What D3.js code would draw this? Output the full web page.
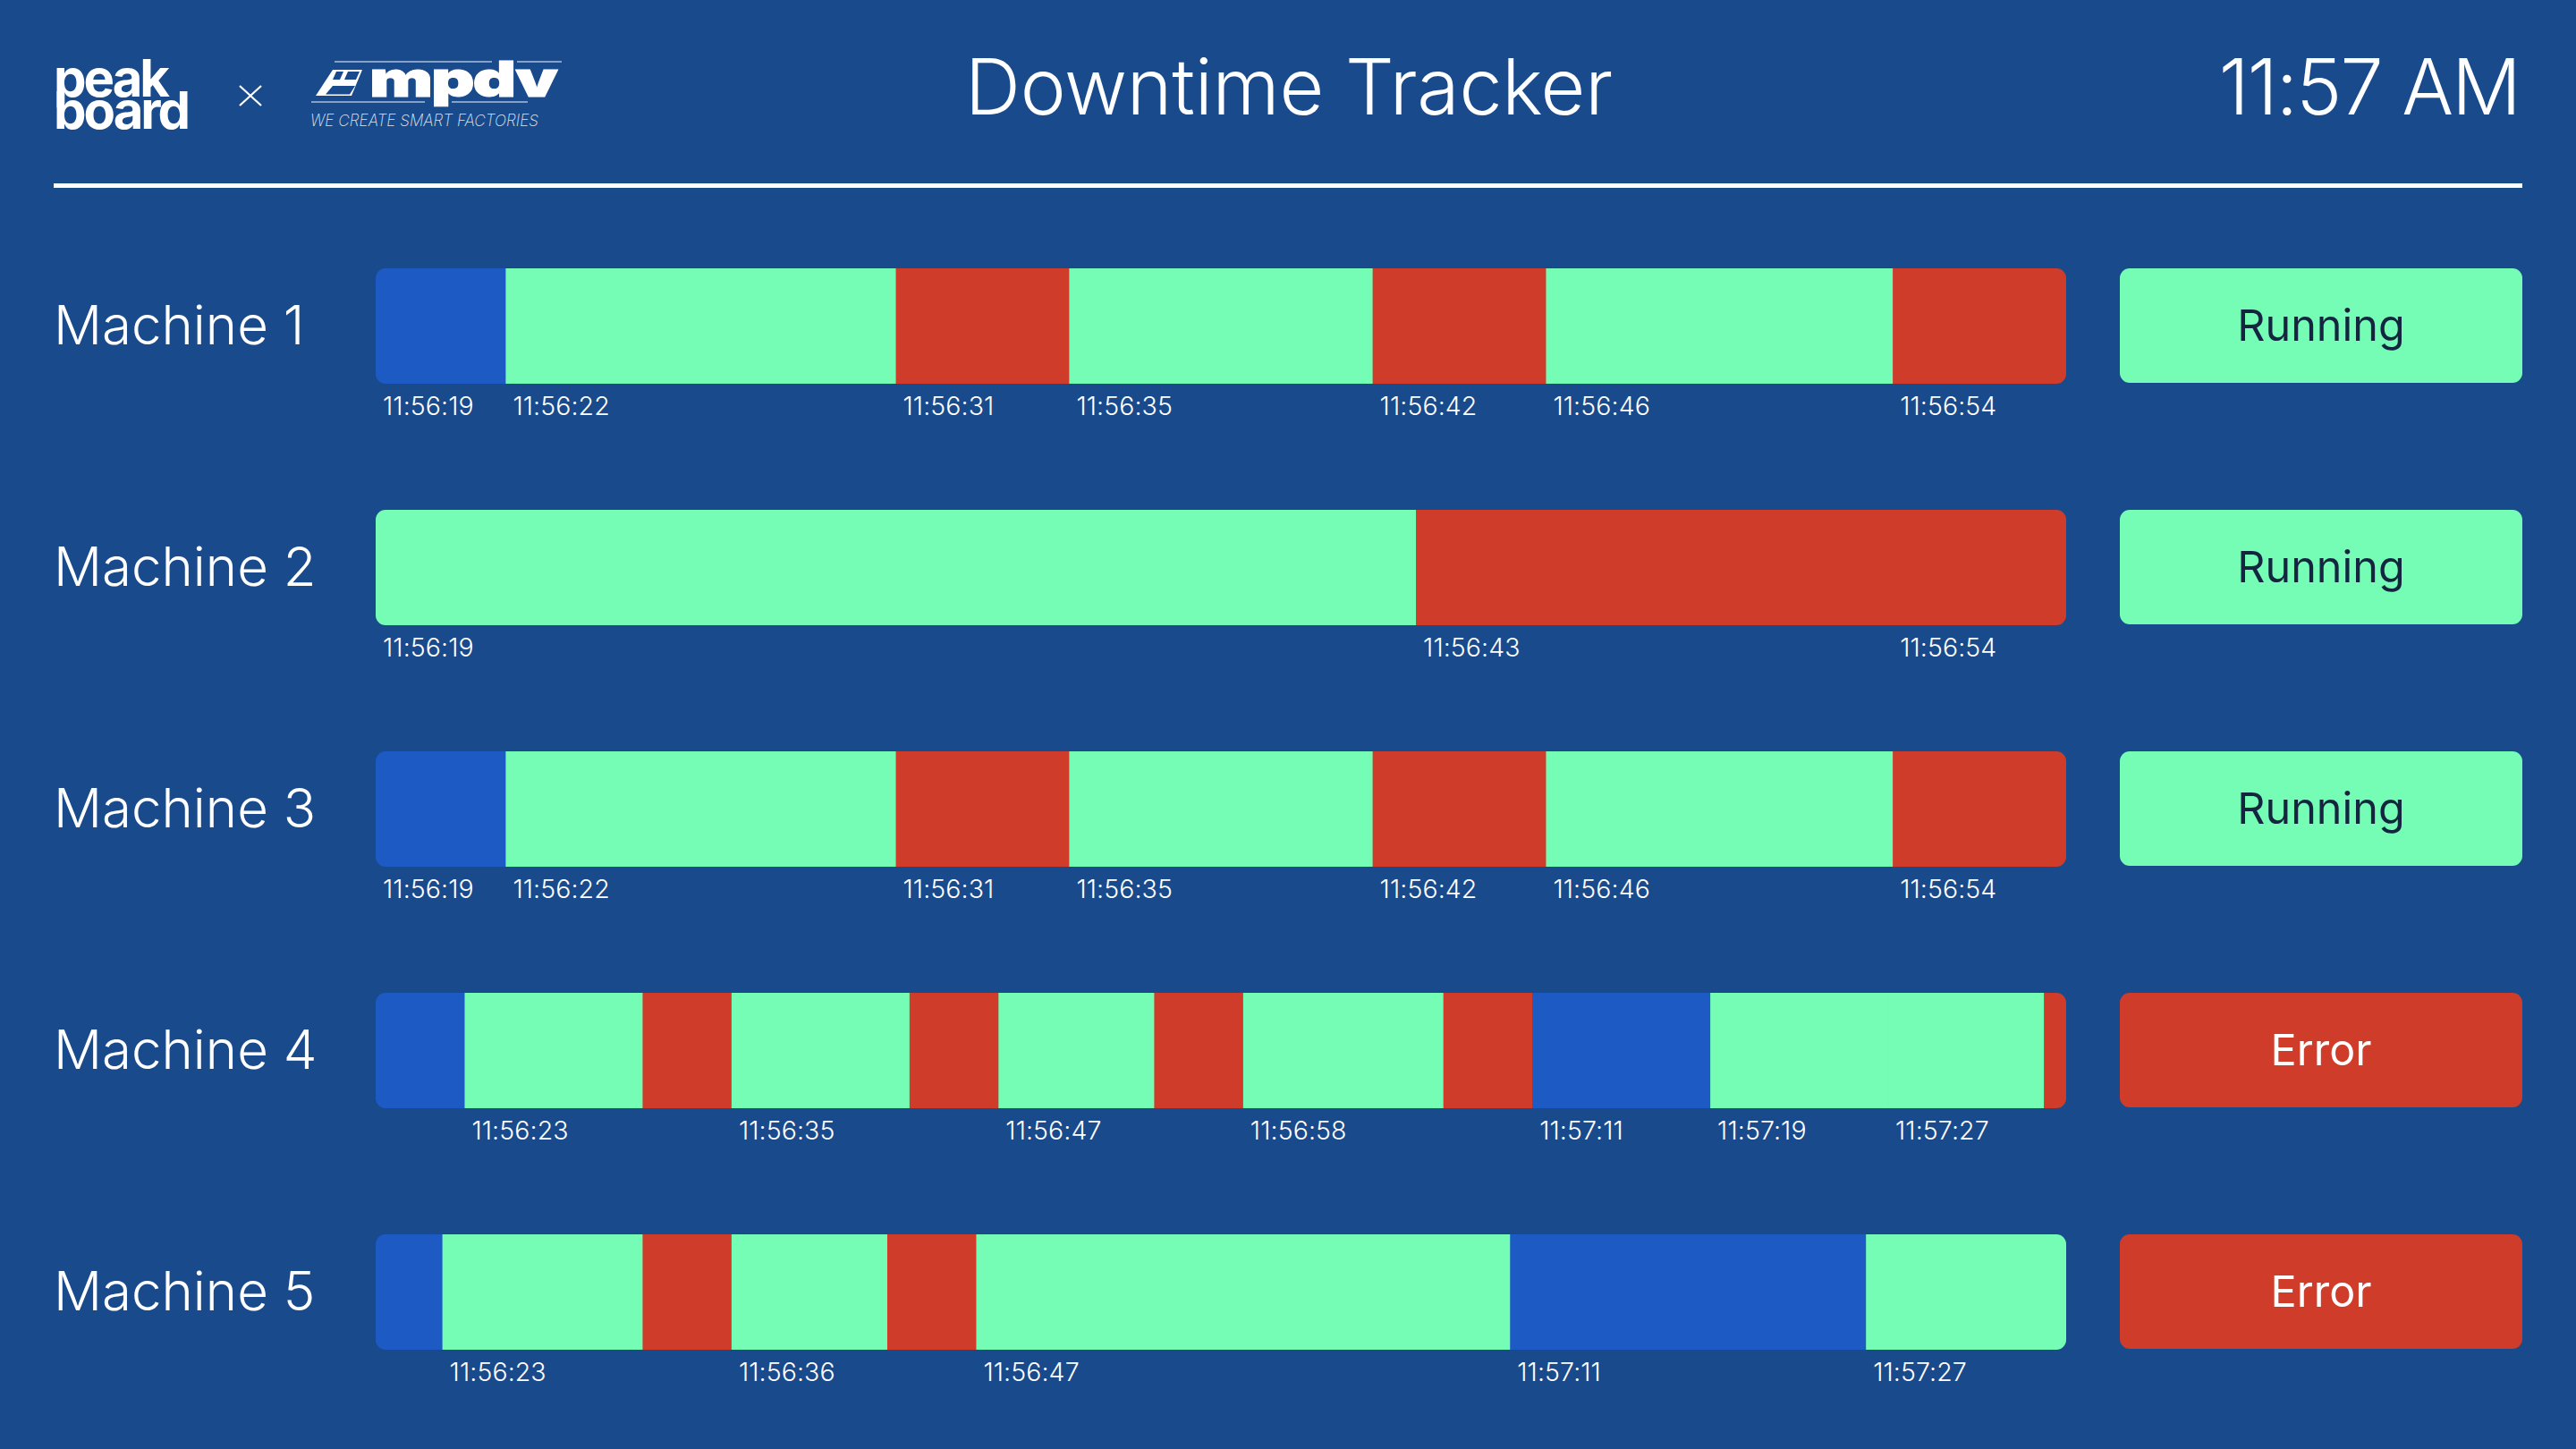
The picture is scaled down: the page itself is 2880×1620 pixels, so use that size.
<!DOCTYPE html>
<html>
<head>
<meta charset="utf-8">
<script src="https://cdn.jsdelivr.net/npm/d3@7"></script>
<style>
  html, body { margin: 0; padding: 0; background: #194a8c; }
  svg { display: block; }
  text { font-family: Inter, "Open Sans", sans-serif; }
</style>
</head>
<body>
<div id="chart"></div>
<script>
const BG = "#194a8c";
const STATE_COLOR = {setup: "#1d5ac4", run: "#75fdb6", stop: "#cf3d2a"};
const STATUS_COLOR = {Running: "#75fdb6", Error: "#cf3d2a"};
const STATUS_TEXT = {Running: "#14263f", Error: "#ffffff"};

const machineNames = ["Machine 1", "Machine 2", "Machine 3", "Machine 4", "Machine 5"];
const machineStatus = ["Running", "Running", "Running", "Error", "Error"];

// start time of every segment, last entry closes the bar
const machine1Times = ["11:56:19", "11:56:22", "11:56:31", "11:56:35", "11:56:42", "11:56:46", "11:56:54", "11:56:58"];
const machine1States = ["setup", "run", "stop", "run", "stop", "run", "stop"];
const machine1Labels = ["11:56:19", "11:56:22", "11:56:31", "11:56:35", "11:56:42", "11:56:46", "11:56:54"];

const machine2Times = ["11:56:19", "11:56:43", "11:56:58"];
const machine2States = ["run", "stop"];
const machine2Labels = ["11:56:19", "11:56:43", "11:56:54"];

const machine3Times = ["11:56:19", "11:56:22", "11:56:31", "11:56:35", "11:56:42", "11:56:46", "11:56:54", "11:56:58"];
const machine3States = ["setup", "run", "stop", "run", "stop", "run", "stop"];
const machine3Labels = ["11:56:19", "11:56:22", "11:56:31", "11:56:35", "11:56:42", "11:56:46", "11:56:54"];

const machine4Times = ["11:56:19", "11:56:23", "11:56:31", "11:56:35", "11:56:43", "11:56:47", "11:56:54", "11:56:58", "11:57:07", "11:57:11", "11:57:19", "11:57:27", "11:57:34", "11:57:35"];
const machine4States = ["setup", "run", "stop", "run", "stop", "run", "stop", "run", "stop", "setup", "run", "run", "stop"];
const machine4Labels = ["11:56:23", "11:56:35", "11:56:47", "11:56:58", "11:57:11", "11:57:19", "11:57:27"];

const machine5Times = ["11:56:20", "11:56:23", "11:56:32", "11:56:36", "11:56:43", "11:56:47", "11:57:11", "11:57:27", "11:57:36"];
const machine5States = ["setup", "run", "stop", "run", "stop", "run", "setup", "run"];
const machine5Labels = ["11:56:23", "11:56:36", "11:56:47", "11:57:11", "11:57:27"];

const allTimes = [machine1Times, machine2Times, machine3Times, machine4Times, machine5Times];
const allStates = [machine1States, machine2States, machine3States, machine4States, machine5States];
const allLabels = [machine1Labels, machine2Labels, machine3Labels, machine4Labels, machine5Labels];

const width = 2880, height = 1620;
const barLeft = 420, barRight = 2310;
const parseTime = d3.timeParse("%H:%M:%S");
const formatTime = d3.timeFormat("%H:%M:%S");

const rowY = d3.scaleBand()
  .domain(machineNames)
  .range([300, 300 + 270 * 5]);
const barH = 129;

const svg = d3.select("#chart").append("svg")
  .attr("width", width)
  .attr("height", height)
  .attr("viewBox", [0, 0, width, height]);

svg.append("rect").attr("width", width).attr("height", height).attr("fill", BG);

drawHeader();

machineNames.forEach((name, i) => {
  const times = allTimes[i].map(parseTime);
  const x = d3.scaleTime().domain(d3.extent(times)).range([barLeft, barRight]);
  const row = svg.append("g").attr("transform", `translate(0,${rowY(name)})`);

  const clipId = `bar-clip-${i}`;
  row.append("clipPath").attr("id", clipId)
    .append("rect")
    .attr("x", barLeft).attr("width", barRight - barLeft)
    .attr("height", barH).attr("rx", 11);

  // small overlap so neighbours do not show the background through the seam
  row.append("g")
    .attr("clip-path", `url(#${clipId})`)
    .selectAll("rect")
    .data(allStates[i])
    .join("rect")
    .attr("x", (d, j) => x(times[j]))
    .attr("width", (d, j) => x(times[j + 1]) - x(times[j]) + 0.6)
    .attr("height", barH)
    .attr("fill", (d) => STATE_COLOR[d]);

  const axis = d3.axisBottom(x)
    .tickValues(allLabels[i].map(parseTime))
    .tickFormat(formatTime)
    .tickSize(0)
    .tickPadding(0);

  row.append("g")
    .attr("transform", `translate(0,${barH + 15})`)
    .call(axis)
    .call((g) => g.select(".domain").remove())
    .call((g) => g.selectAll(".tick text")
      .attr("x", 7.5)
      .attr("dy", "0.71em")
      .attr("text-anchor", "start")
      .attr("fill", "#fff")
      .attr("font-size", 28.5)
      .attr("font-weight", 300)
      .attr("letter-spacing", 0.1)
      .style("font-family", "Inter, sans-serif"));

  row.append("text")
    .attr("x", 60)
    .attr("y", 85)
    .attr("fill", "#fff")
    .attr("font-size", 60)
    .attr("font-weight", 300)
    .text(name);

  const status = machineStatus[i];
  row.append("rect")
    .attr("x", 2370).attr("width", 450)
    .attr("height", 128).attr("rx", 11)
    .attr("fill", STATUS_COLOR[status]);
  row.append("text")
    .attr("x", 2595).attr("y", 64)
    .attr("dy", "0.35em")
    .attr("text-anchor", "middle")
    .attr("fill", STATUS_TEXT[status])
    .attr("font-size", 48.5)
    .attr("font-weight", 400)
    .text(status);
});

function drawHeader() {
  svg.append("rect").attr("x", 60).attr("y", 205).attr("width", 2760).attr("height", 5).attr("fill", "#fff");

  svg.append("text")
    .attr("x", 1441).attr("y", 128)
    .attr("text-anchor", "middle")
    .attr("fill", "#fff")
    .attr("font-size", 86)
    .attr("font-weight", 300)
    .attr("letter-spacing", -0.2)
    .text("Downtime Tracker");

  svg.append("text")
    .attr("x", 2817).attr("y", 128)
    .attr("text-anchor", "end")
    .attr("fill", "#fff")
    .attr("font-size", 86)
    .attr("font-weight", 300)
    .attr("letter-spacing", -1.8)
    .text("11:57 AM");

  // peakboard logo
  const peak = svg.append("text").attr("fill", "#fff")
    .attr("font-size", 58).attr("font-weight", 700).attr("letter-spacing", -3);
  peak.append("tspan").attr("x", 60).attr("y", 108).text("peak");
  peak.append("tspan").attr("x", 60).attr("y", 144).text("board");

  svg.append("path")
    .attr("d", "M268,96 L292,118 M292,96 L268,118")
    .attr("stroke", "#fff").attr("stroke-width", 2.2).attr("fill", "none");

  // mpdv logo
  const logo = svg.append("g").attr("fill", "#fff");
  logo.append("path").attr("d", "M353,107 L372,78 L405,78 L393,107 Z");
  logo.append("path").attr("fill", BG)
    .attr("d", "M364,105.5 L372,96 L397,96 L391,105.5 Z M376,80 L384,80 L380,89 L372,89 Z M389,80 L402,80 L398,89 L385,89 Z");
  logo.append("text")
    .attr("transform", "translate(413,108) scale(1.37,1)")
    .attr("font-size", 55)
    .attr("font-weight", 900)
    .attr("letter-spacing", -1.5)
    .attr("stroke", "#fff")
    .attr("stroke-width", 1)
    .text("mpdv");
  logo.append("path")
    .attr("d", "M374,69 H550 M578,69 H628 M348,114 H475 M505,114 H590")
    .attr("stroke", "#a9bedb").attr("stroke-width", 1.5).attr("fill", "none");
  logo.append("text")
    .attr("x", 347).attr("y", 141)
    .attr("font-size", 18)
    .attr("font-weight", 200)
    .attr("font-style", "italic")
    .attr("fill", "#dde6f2")
    .attr("textLength", 255)
    .attr("lengthAdjust", "spacingAndGlyphs")
    .text("WE CREATE SMART FACTORIES");
}
</script>
</body>
</html>
